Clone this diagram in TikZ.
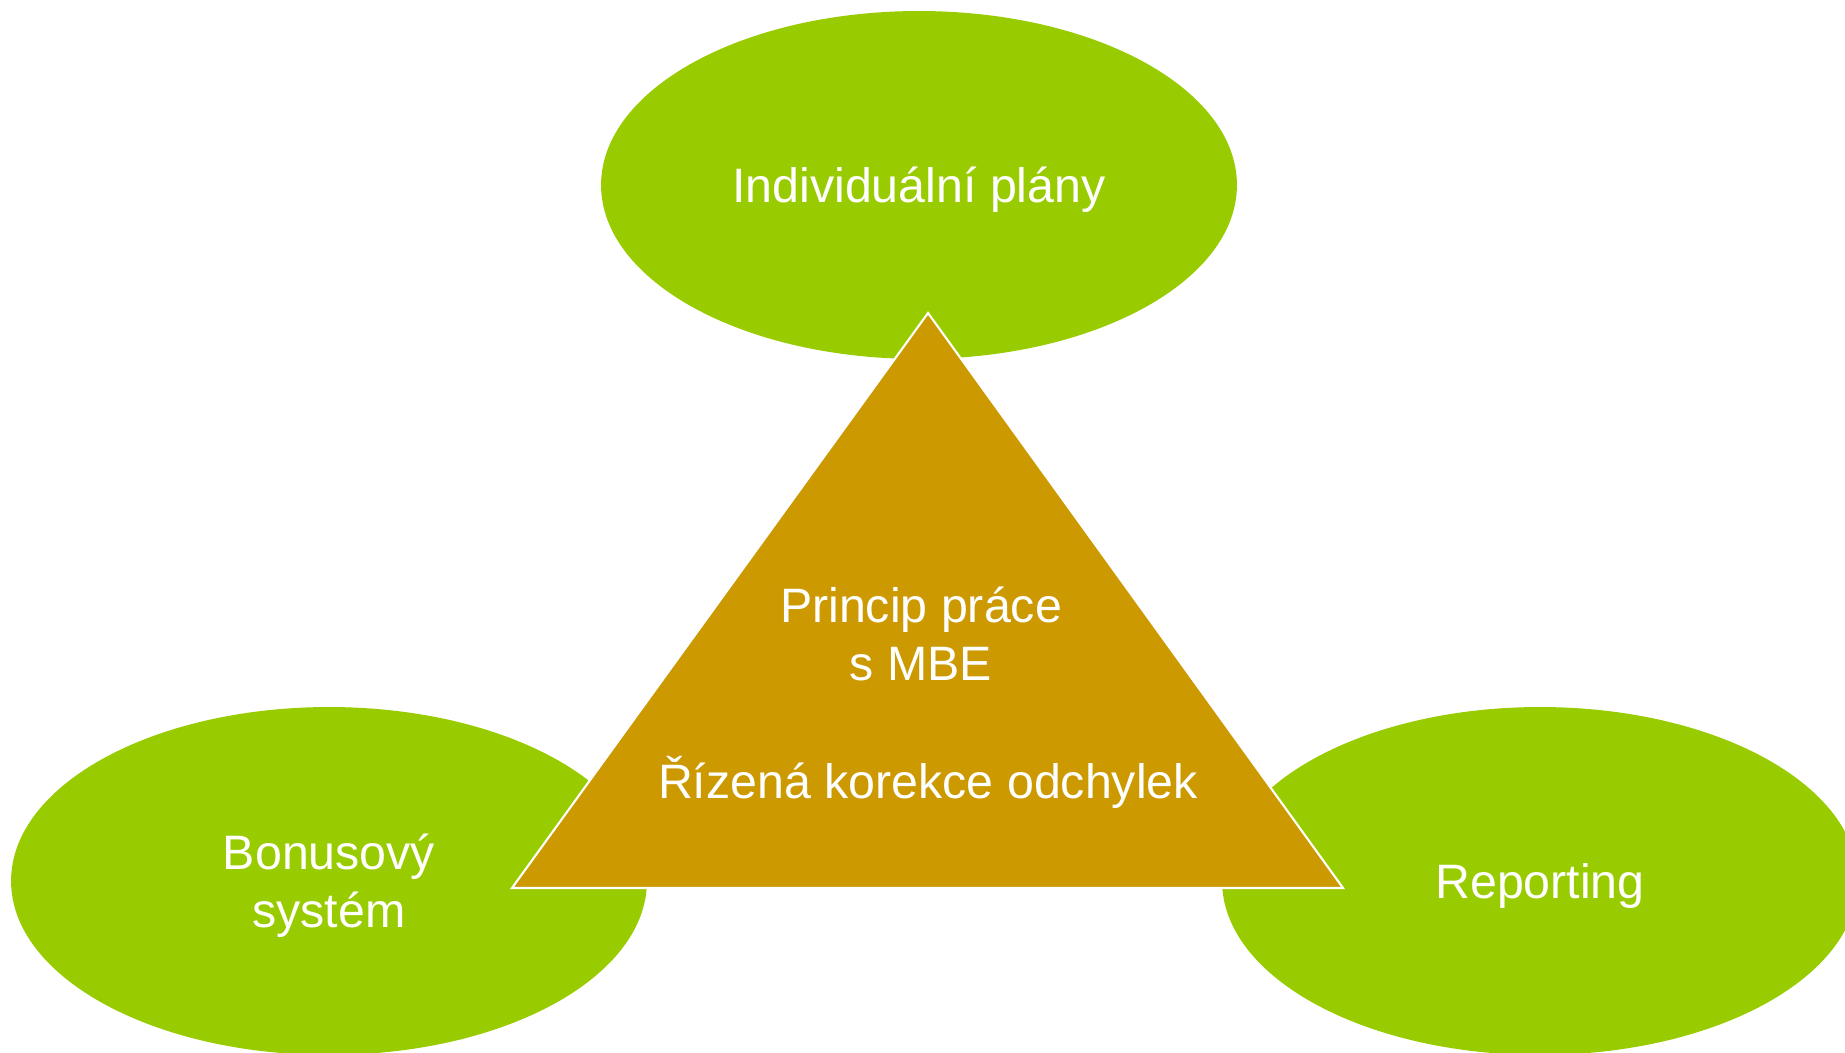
\documentclass[tikz,border=0pt]{standalone}
\usepackage{fontspec}
\setmainfont{Liberation Sans}
\usetikzlibrary{shapes.geometric}
\definecolor{leafgreen}{HTML}{99CC00}
\definecolor{mbegold}{HTML}{CC9900}
\tikzset{
    goal/.style = {ellipse, fill=leafgreen, minimum width=12.72cm, minimum height=6.96cm, inner sep=0pt, text depth=0pt, text=white, align=center, font=\fontsize{27.5}{33}\selectfont},
    core/.style = {fill=mbegold, draw=white, line width=1.2pt, line join=miter},
    coretext/.style = {text=white, align=center, font=\fontsize{27.5}{33}\selectfont}
}

\begin{document}
\begin{tikzpicture}[x=0.02cm, y=-0.02cm]
\useasboundingbox (0,0) rectangle (1845,1053);
\clip (0,0) rectangle (1845,1053);
% three supporting areas
\node[goal] at (919, 185) (plany) {Individuální plány};
\node[goal] at (329, 881) (bonus) {Bonusový\\systém};
\node[goal] at (1540, 881) (report) {Reporting};
% central triangle
\coordinate (apex) at (928, 313);
\coordinate (baseL) at (512, 888);
\coordinate (baseR) at (1343, 888);
\draw[core] (apex) -- (baseL) -- (baseR) -- cycle;
\node[coretext] at (921, 634) (princip) {Princip práce\\s MBE};
\node[coretext, anchor=base] at (928, 798) (korekce) {Řízená korekce odchylek};
\end{tikzpicture}
\end{document}
